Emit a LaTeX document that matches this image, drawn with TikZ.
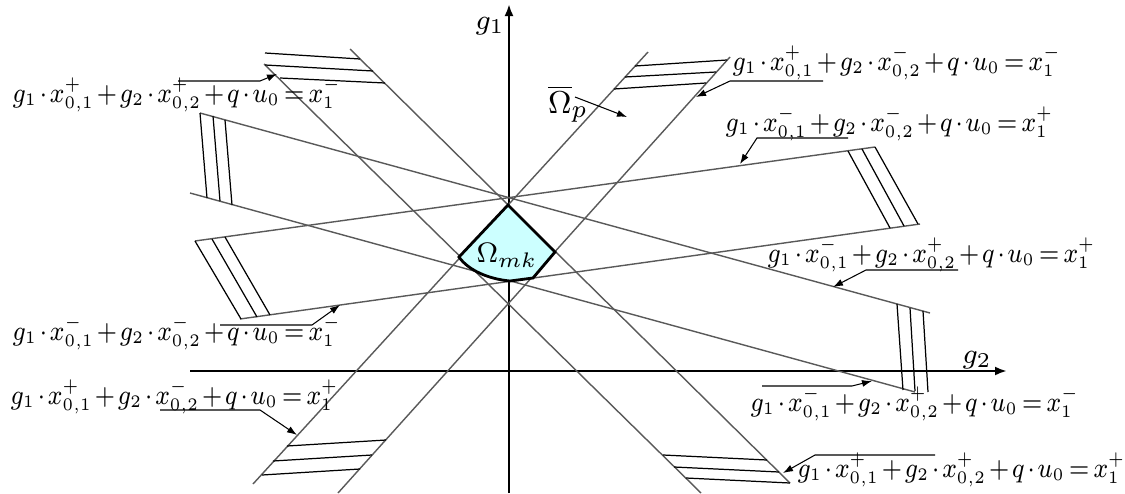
\documentclass[tikz,border=0pt]{standalone}
\usepackage{amsmath, amssymb}
\usepackage{xcolor}
\usepackage{tikz}
\usetikzlibrary{arrows.meta}

\definecolor{mkfill}{HTML}{CCFFFF}
\newcommand{\constr}[3]{\scalebox{0.87}[1]{\medmuskip=2mu\thickmuskip=3mu$g_1\cdot x_{0,1}^{#1}+g_2\cdot x_{0,2}^{#2}+q\cdot u_0=x_1^{#3}$}}

\tikzset{
  cline/.style={black!65, line width=0.4pt},
  hatch/.style={black, line width=0.35pt},
  axis/.style={black, line width=0.7pt, -{Latex[length=1.2mm,width=0.9mm]}},
  lead/.style={black, line width=0.3pt, -{Latex[length=1mm,width=0.7mm]}},
  eqlabel/.style={anchor=west, inner sep=0pt, font=\fontsize{7.6}{9}\selectfont},
}

\begin{document}
\begin{tikzpicture}[x=0.1mm, y=-0.1mm]
    \useasboundingbox (0,0) rectangle (1125,493);

    % axes
    \draw[axis] (190,371) -- (1007,371);
    \draw[axis] (509,493) -- (509,4);
    \node[font=\fontsize{8.5}{10}\selectfont] (g1) at (490,26) {$g_1$};
    \node[font=\fontsize{8.5}{10}\selectfont] (g2) at (977,360) {$g_2$};

    % shallow descending pair
    \draw[cline] (200,113) -- (930,313);
    \draw[cline] (190,193) -- (915,392);
    % shallow ascending pair
    \draw[cline] (195,241) -- (875,147);
    \draw[cline] (240,319) -- (920,224);
    % steep ascending pair
    \draw[cline] (648,52) -- (253,484);
    \draw[cline] (730,57) -- (338,493);
    % steep descending pair
    \draw[cline] (264,64) -- (701,493);
    \draw[cline] (350,49) -- (790,483);

    % hatching
    \draw[hatch] (200,113) -- (207,198) (213,116) -- (220,201) (225,120) -- (232,205);
    \draw[hatch] (897,304) -- (903,390) (910,308) -- (915,391) (923,311) -- (928,392);
    \draw[hatch] (195,241) -- (241,319) (212,239) -- (257,317) (225,237) -- (270,315);
    \draw[hatch] (848,151) -- (890,228) (862,149) -- (904,226) (875,147) -- (918,224);
    \draw[hatch] (635,66) -- (727,60) (625,77) -- (716,72) (614,89) -- (706,83);
    \draw[hatch] (287,446) -- (386,440) (273,461) -- (372,455) (262,475) -- (360,469);
    \draw[hatch] (265,53) -- (360,59) (265,65) -- (373,71) (280,78) -- (385,83);
    \draw[hatch] (663,455) -- (767,460) (674,467) -- (779,472) (686,478) -- (790,483);

    % feasible region
    \draw[line width=0.8pt, fill=mkfill] (508,205) -- (555,252) -- (533,278) -- (510,281)
        .. controls (488,279) and (468,270) .. (459,257) -- cycle;
    \node[font=\fontsize{8.5}{10}\selectfont] (Omk) at (507,255) {$\Omega_{mk}$};

    \node[font=\fontsize{9.5}{11}\selectfont] (Op) at (568,104) {$\overline{\Omega}_p$};
    \coordinate (op1) at (575,97);
    \coordinate (op2) at (627,117);
    \draw[lead] (op1) -- (op2);

    % constraint labels
    \node[eqlabel] (L1) at (12,95)  {\constr{+}{+}{-}};
    \node[eqlabel] (L2) at (732,63) {\constr{+}{-}{-}};
    \node[eqlabel] (L3) at (725,124) {\constr{-}{-}{+}};
    \node[eqlabel] (L4) at (767,255) {\constr{-}{+}{+}};
    \node[eqlabel] (L5) at (12,333) {\constr{-}{-}{-}};
    \node[eqlabel] (L6) at (10,397) {\constr{+}{-}{+}};
    \node[eqlabel] (L7) at (750,404) {\constr{-}{+}{-}};
    \node[eqlabel] (L8) at (797,470) {\constr{+}{+}{+}};

    % leaders
    \coordinate (t1) at (277,74);  \coordinate (s1) at (178,81);  \coordinate (c1) at (260,81);
    \coordinate (t2) at (696,97);  \coordinate (s2) at (823,81);  \coordinate (c2) at (730,81);
    \coordinate (t3) at (740,164); \coordinate (s3) at (848,138); \coordinate (c3) at (757,138);
    \coordinate (t4) at (833,287); \coordinate (s4) at (958,270); \coordinate (c4) at (866,270);
    \coordinate (t5) at (340,305); \coordinate (s5) at (220,325); \coordinate (c5) at (312,325);
    \coordinate (t6) at (297,435); \coordinate (s6) at (160,410); \coordinate (c6) at (260,410);
    \coordinate (t7) at (872,381); \coordinate (s7) at (762,386); \coordinate (c7) at (852,386);
    \coordinate (t8) at (783,473); \coordinate (s8) at (935,455); \coordinate (c8) at (815,455);
    \foreach \i in {1,...,8} {
        \draw[lead] (s\i) -- (c\i) -- (t\i);
    }
\end{tikzpicture}
\end{document}
